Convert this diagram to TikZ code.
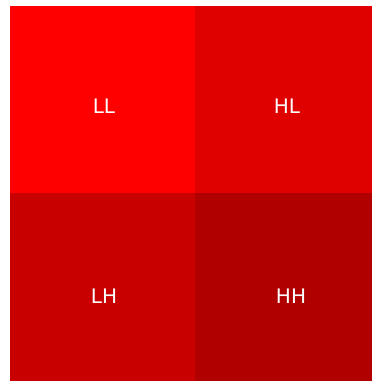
\documentclass[tikz,border=0pt]{standalone}
\usepackage{fontspec}
\setmainfont{DejaVu Sans}
\definecolor{llred}{HTML}{FF0000}
\definecolor{hlred}{HTML}{DF0000}
\definecolor{lhred}{HTML}{C80000}
\definecolor{hhred}{HTML}{B00000}
\tikzset{band/.style={text=white, font=\fontsize{20}{24}\selectfont, inner sep=0pt, anchor=center}}
\begin{document}
\begin{tikzpicture}[x=1pt, y=1pt]
	% Frame:
	\useasboundingbox (0, 0) rectangle (372, 383);
	% Sub-bands:
	\fill[llred] (10, 190) rectangle (195, 377);
	\fill[hlred] (195, 190) rectangle (372, 377);
	\fill[lhred] (10, 2) rectangle (195, 190);
	\fill[hhred] (195, 2) rectangle (372, 190);
	\node[band] (ll) at (104, 277){LL};
	\node[band] (hl) at (287, 277){HL};
	\node[band] (lh) at (104, 87){LH};
	\node[band] (hh) at (291, 87){HH};
\end{tikzpicture}
\end{document}
